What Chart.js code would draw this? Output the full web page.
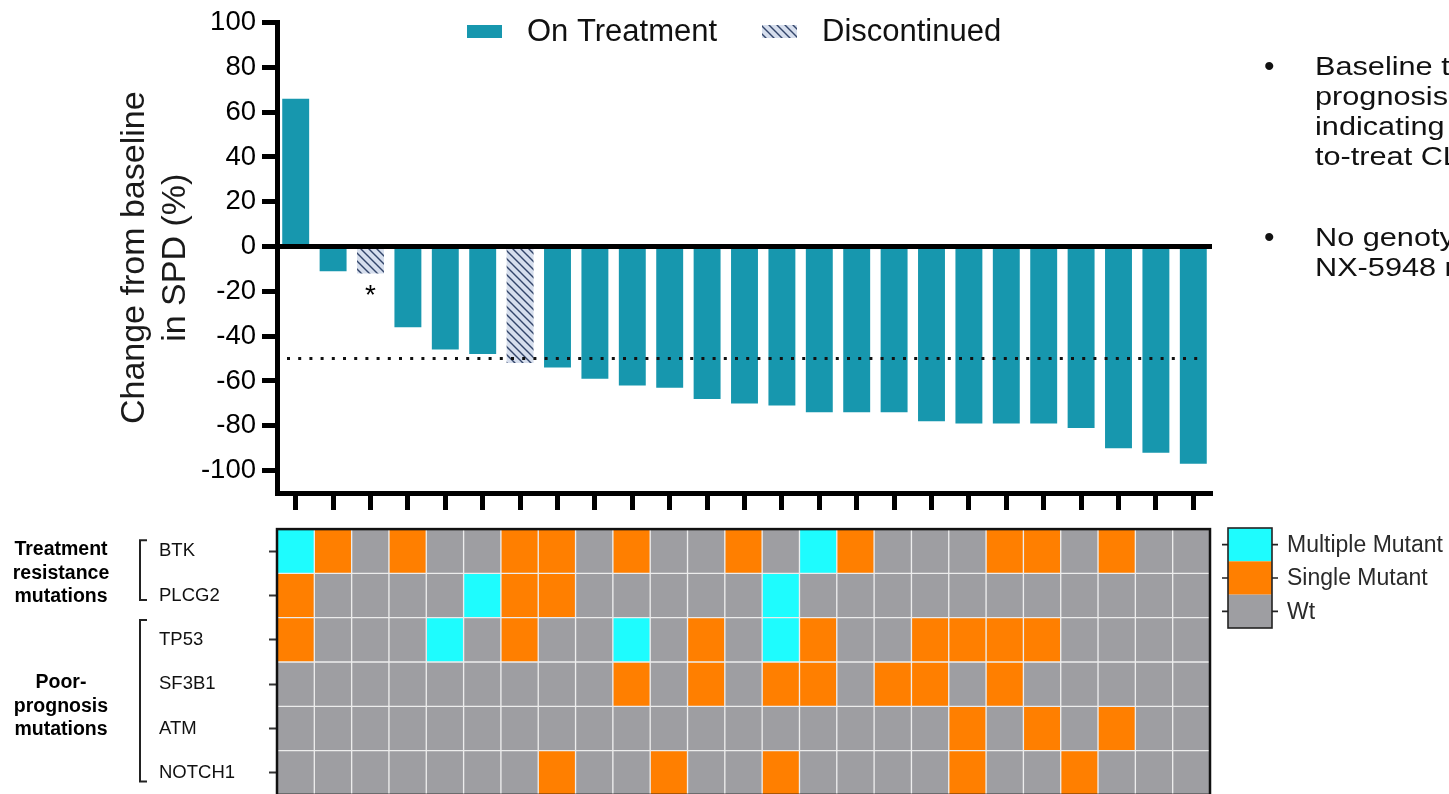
<!DOCTYPE html>
<html lang="en">
<head>
<meta charset="utf-8">
<title>Change from baseline in SPD and baseline mutations</title>
<script src="https://cdn.jsdelivr.net/npm/chart.js@4.4.1/dist/chart.umd.min.js"></script>
<style>
  html, body { margin: 0; padding: 0; background: #fff; }
  body { width: 1449px; height: 794px; overflow: hidden; position: relative;
         font-family: "Liberation Sans", Arial, Helvetica, sans-serif; }
  canvas { position: absolute; left: 0; }
  #waterfall { top: 0; }
  #mutations { top: 515px; }
  .note { position: absolute; left: 1315px; font-size: 26px; line-height: 30px; color: #111;
          white-space: nowrap; }
  .note .txt { display: inline-block; transform: scaleX(1.18); transform-origin: 0 0; }
  .note .dot { position: absolute; left: -51px; top: 0; font-size: 30px; }
</style>
</head>
<body>
<canvas id="waterfall" width="1449" height="520"></canvas>
<canvas id="mutations" width="1449" height="294"></canvas>

<div class="note" style="top:51px"><span class="dot">•</span><span class="txt">Baseline t<br>prognosis<br>indicating<br>to-treat CL</span></div>
<div class="note" style="top:222px"><span class="dot">•</span><span class="txt">No genoty<br>NX-5948 r</span></div>

<script>
// ---- data -------------------------------------------------------------
const patients = ['1','2','3','4','5','6','7','8','9','10','11','12','13',
                  '14','15','16','17','18','19','20','21','22','23','24','25'];

// best change from baseline in SPD (%), one value per patient
const changeFromBaseline = [66, -11, -12, -36, -46, -48, -52, -54, -59, -62, -63, -68, -70,
                            -71, -74, -74, -74, -78, -79, -79, -79, -81, -90, -92, -97];

// treatment status per patient
const treatmentStatus = ['On','On','Discontinued','On','On','On','Discontinued','On','On','On','On','On','On',
                         'On','On','On','On','On','On','On','On','On','On','On','On'];

const seriesNames = ['On Treatment', 'Discontinued'];
const yTickValues = [100, 80, 60, 40, 20, 0, -20, -40, -60, -80, -100];
const responseThreshold = -50;   // PR threshold (dotted line)
const footnoteIndex = 2;         // patient marked with *

// baseline mutation status: M = multiple mutant, S = single mutant, W = wild type
const genes = ['BTK', 'PLCG2', 'TP53', 'SF3B1', 'ATM', 'NOTCH1'];
const btk    = ['M','S','W','S','W','W','S','S','W','S','W','W','S','W','M','S','W','W','W','S','S','W','S','W','W'];
const plcg2  = ['S','W','W','W','W','M','S','S','W','W','W','W','W','M','W','W','W','W','W','W','W','W','W','W','W'];
const tp53   = ['S','W','W','W','M','W','S','W','W','M','W','S','W','M','S','W','W','S','S','S','S','W','W','W','W'];
const sf3b1  = ['W','W','W','W','W','W','W','W','W','S','W','S','W','S','S','W','S','S','W','S','W','W','W','W','W'];
const atm    = ['W','W','W','W','W','W','W','W','W','W','W','W','W','W','W','W','W','W','S','W','S','W','S','W','W'];
const notch1 = ['W','W','W','W','W','W','W','S','W','W','S','W','W','S','W','W','W','W','S','W','W','S','W','W','W'];
const mutationRows = [btk, plcg2, tp53, sf3b1, atm, notch1];

const statusKeys   = ['M', 'S', 'W'];
const statusLabels = ['Multiple Mutant', 'Single Mutant', 'Wt'];
const groupLabels  = [['Treatment', 'resistance', 'mutations'], ['Poor-', 'prognosis', 'mutations']];

// ---- styling ----------------------------------------------------------
const FONT = '"Liberation Sans", Arial, Helvetica, sans-serif';
const TEAL = '#1797ae';
const statusColors = { M: '#1efcfe', S: '#ff7f00', W: '#9e9ea2' };

Chart.defaults.font.family = FONT;
Chart.defaults.color = '#000';
Chart.defaults.animation = false;

function makeHatch() {
  const s = 8;
  const c = document.createElement('canvas');
  c.width = s; c.height = s;
  const g = c.getContext('2d');
  g.fillStyle = '#d6deed';
  g.fillRect(0, 0, s, s);
  g.strokeStyle = '#33456a';
  g.lineWidth = 1.4;
  g.beginPath();
  g.moveTo(-1, -1); g.lineTo(s + 1, s + 1);
  g.moveTo(-1, s - 1); g.lineTo(1, s + 1);
  g.moveTo(s - 1, -1); g.lineTo(s + 1, 1);
  g.stroke();
  return g.createPattern(c, 'repeat');
}
const hatch = makeHatch();

// ---- waterfall plot ---------------------------------------------------
const topLegend = {
  id: 'topLegend',
  afterDraw(chart) {
    const ctx = chart.ctx;
    const slots = [{ box: 467, text: 527 }, { box: 762, text: 822 }];
    ctx.save();
    ctx.font = '31px ' + FONT;
    ctx.textBaseline = 'middle';
    chart.data.datasets.forEach((ds, i) => {
      ctx.fillStyle = ds.backgroundColor;
      ctx.fillRect(slots[i].box, 25, 35, 13);
      ctx.fillStyle = '#111';
      ctx.fillText(ds.label, slots[i].text, 32);
    });
    ctx.restore();
  }
};

const refMarks = {
  id: 'refMarks',
  afterDatasetsDraw(chart) {
    const { ctx, chartArea, scales: { x, y } } = chart;
    const yy = y.getPixelForValue(responseThreshold);
    ctx.save();
    ctx.strokeStyle = '#111';
    ctx.lineWidth = 3;
    ctx.setLineDash([3, 8.2]);
    ctx.beginPath();
    ctx.moveTo(chartArea.left + 10, yy);
    ctx.lineTo(chartArea.right - 8, yy);
    ctx.stroke();
    ctx.setLineDash([]);
    ctx.font = '28px ' + FONT;
    ctx.textAlign = 'center';
    ctx.textBaseline = 'alphabetic';
    ctx.fillStyle = '#000';
    ctx.fillText('*', x.getPixelForValue(footnoteIndex),
                 y.getPixelForValue(changeFromBaseline[footnoteIndex]) + 31);
    ctx.restore();
  }
};

new Chart(document.getElementById('waterfall'), {
  type: 'bar',
  data: {
    labels: patients,
    datasets: [
      {
        label: seriesNames[0],
        data: changeFromBaseline.map((v, i) => treatmentStatus[i] === 'On' ? v : null),
        backgroundColor: TEAL
      },
      {
        label: seriesNames[1],
        data: changeFromBaseline.map((v, i) => treatmentStatus[i] === 'Discontinued' ? v : null),
        backgroundColor: hatch
      }
    ]
  },
  options: {
    responsive: false,
    events: [],
    layout: { padding: { left: 115, right: 237, top: 22, bottom: 0 } },
    datasets: { bar: { grouped: false, barPercentage: 0.72, categoryPercentage: 1, borderWidth: 0 } },
    plugins: { legend: { display: false }, tooltip: { enabled: false } },
    scales: {
      x: {
        type: 'category',
        offset: true,
        ticks: { display: false },
        grid: { offset: false, drawOnChartArea: false, drawTicks: true, tickLength: 17,
                tickWidth: 5, tickColor: '#000' },
        border: { display: true, color: '#000', width: 5 },
        afterFit(axis) { axis.height = 27; }
      },
      y: {
        min: -110,
        max: 100,
        afterBuildTicks(axis) { axis.ticks = yTickValues.map(v => ({ value: v })); },
        ticks: { font: { size: 27.5 }, color: '#000', padding: 6 },
        grid: {
          z: 1,
          drawOnChartArea: true,
          color: c => (c.tick && c.tick.value === 0) ? '#000' : 'rgba(0,0,0,0)',
          lineWidth: c => (c.tick && c.tick.value === 0) ? 5 : 1,
          tickColor: '#000',
          tickWidth: 5,
          tickLength: 15
        },
        border: { display: true, color: '#000', width: 5, z: 1 },
        title: {
          display: true,
          text: ['Change from baseline', 'in SPD (%)'],
          font: { size: 34, lineHeight: 1.18 },
          color: '#1a1a1a',
          padding: { top: 0, bottom: 0 }
        },
        afterFit(axis) { axis.width = 162; }
      }
    }
  },
  plugins: [topLegend, refMarks]
});

// ---- mutation heat map ------------------------------------------------
const heatDecor = {
  id: 'heatDecor',
  afterDraw(chart) {
    const { ctx, chartArea, scales: { y } } = chart;
    ctx.save();
    // frame
    ctx.strokeStyle = '#111';
    ctx.lineWidth = 2.5;
    ctx.strokeRect(chartArea.left, chartArea.top, chartArea.right - chartArea.left,
                   chartArea.bottom - chartArea.top);

    // group brackets
    ctx.lineWidth = 2;
    ctx.strokeStyle = '#222';
    const brackets = [[0.25, 1.6], [2.05, 5.7]];
    brackets.forEach(([a, b]) => {
      const y0 = y.getPixelForValue(a), y1 = y.getPixelForValue(b);
      ctx.beginPath();
      ctx.moveTo(147, y0); ctx.lineTo(140, y0); ctx.lineTo(140, y1); ctx.lineTo(147, y1);
      ctx.stroke();
    });

    // group labels
    ctx.fillStyle = '#000';
    ctx.font = 'bold 19.5px ' + FONT;
    ctx.textAlign = 'center';
    ctx.textBaseline = 'middle';
    const centers = [1, 4];
    groupLabels.forEach((lines, g) => {
      const cy = y.getPixelForValue(centers[g]);
      lines.forEach((t, k) => ctx.fillText(t, 61, cy + (k - (lines.length - 1) / 2) * 23.5));
    });

    // status key
    const kx = 1228, kw = 44, ky = 13, kh = 100;
    const seg = kh / statusKeys.length;
    statusKeys.forEach((k, i) => {
      ctx.fillStyle = statusColors[k];
      ctx.fillRect(kx, ky + i * seg, kw, seg);
    });
    ctx.strokeStyle = '#222';
    ctx.lineWidth = 1.6;
    ctx.strokeRect(kx, ky, kw, kh);
    ctx.font = '23px ' + FONT;
    ctx.textAlign = 'left';
    ctx.fillStyle = '#2a2a2a';
    statusLabels.forEach((t, i) => {
      const cy = ky + seg * (i + 0.5);
      ctx.beginPath();
      ctx.moveTo(kx - 6, cy); ctx.lineTo(kx, cy);
      ctx.moveTo(kx + kw, cy); ctx.lineTo(kx + kw + 6, cy);
      ctx.stroke();
      ctx.fillText(t, kx + kw + 15, cy + 1);
    });
    ctx.restore();
  }
};

new Chart(document.getElementById('mutations'), {
  type: 'bar',
  data: {
    labels: patients,
    datasets: mutationRows.map((row, r) => ({
      label: genes[r],
      data: row.map(() => [r, r + 1]),
      backgroundColor: row.map(s => statusColors[s]),
      borderColor: '#ececec',
      borderWidth: 1,
      borderSkipped: false
    }))
  },
  options: {
    responsive: false,
    events: [],
    layout: { padding: { left: 159, right: 239, top: 14, bottom: 14 } },
    datasets: { bar: { grouped: false, barPercentage: 1, categoryPercentage: 1 } },
    plugins: { legend: { display: false }, tooltip: { enabled: false } },
    scales: {
      x: { type: 'category', offset: true, display: false },
      y: {
        min: 0,
        max: 6,
        reverse: true,
        afterBuildTicks(axis) { axis.ticks = genes.map((g, i) => ({ value: i + 0.5 })); },
        ticks: {
          crossAlign: 'far',
          font: { size: 18.5 },
          color: '#111',
          callback: v => genes[Math.floor(v)]
        },
        grid: { drawOnChartArea: false, tickLength: 8, tickWidth: 2, tickColor: '#333' },
        border: { display: false },
        afterFit(axis) { axis.width = 118; }
      }
    }
  },
  plugins: [heatDecor]
});
</script>
</body>
</html>
